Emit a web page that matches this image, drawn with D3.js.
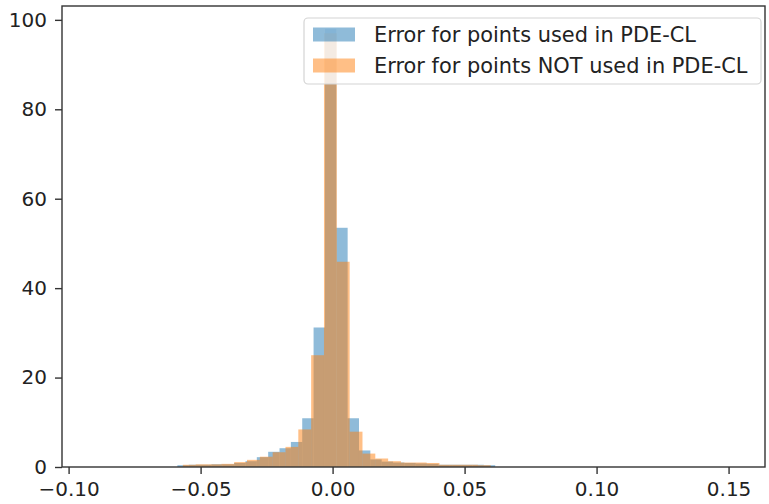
<!DOCTYPE html>
<html>
<head>
<meta charset="utf-8">
<script src="https://cdn.jsdelivr.net/npm/d3@7"></script>
<style>
  html, body { margin: 0; padding: 0; background: #fff; }
  svg { display: block; }
  text { font-family: "DejaVu Sans", sans-serif; fill: #222; }
</style>
</head>
<body>
<svg id="chart" width="769" height="504"></svg>
<script>
// ---- data ----
const seriesNames = ["Error for points used in PDE-CL", "Error for points NOT used in PDE-CL"];
// histogram of points used in PDE-CL: first bin edge, bin width, densities
const usedFirstEdge = -0.0588;
const usedBinWidth = 0.0043;
const usedCounts = [0.4, 0.5, 0.5, 0.6, 0.6, 0.9, 1.3, 2.2, 3.4, 4.2, 5.6, 10.9, 31.2, 98.0,
                    53.5, 10.9, 3.7, 1.7, 1.2, 1.0, 0.9, 0.8, 0.7, 0.5, 0.5, 0.5, 0.5, 0.4];
// histogram of points NOT used in PDE-CL
const notUsedFirstEdge = -0.05672;
const notUsedBinWidth = 0.00486;
const notUsedCounts = [0.5, 0.6, 0.6, 0.7, 1.1, 1.6, 2.3, 3.3, 4.5, 8.4, 25.0, 97.0,
                       45.9, 7.9, 3.0, 1.9, 1.3, 1.0, 1.0, 0.9, 0.5, 0.5, 0.5, 0.4];
const xTicks = [-0.10, -0.05, 0.00, 0.05, 0.10, 0.15];
const yTicks = [0, 20, 40, 60, 80, 100];
const xDomain = [-0.1025, 0.1638];
const yDomain = [0, 103.1];

// ---- layout ----
const svg = d3.select("#chart");
const L = 62, R = 765, T = 6, B = 467;
const x = d3.scaleLinear().domain(xDomain).range([L, R]);
const y = d3.scaleLinear().domain(yDomain).range([B, T]);
const colors = ["#1f77b4", "#ff7f0e"];

function bins(first, w, counts) {
  return counts.map((c, i) => ({ x0: first + i * w, x1: first + (i + 1) * w, v: c }));
}
const series = [
  bins(usedFirstEdge, usedBinWidth, usedCounts),
  bins(notUsedFirstEdge, notUsedBinWidth, notUsedCounts)
];

const plot = svg.append("g");
series.forEach((s, k) => {
  plot.append("g")
    .selectAll("rect").data(s).join("rect")
    .attr("x", d => x(d.x0))
    .attr("width", d => x(d.x1) - x(d.x0))
    .attr("y", d => y(d.v))
    .attr("height", d => y(0) - y(d.v))
    .attr("fill", colors[k])
    .attr("fill-opacity", 0.5);
});

// ---- axes ----
const fs = "20px";
const xAxis = d3.axisBottom(x).tickValues(xTicks).tickFormat(d3.format(".2f"))
  .tickSize(7).tickSizeOuter(0).tickPadding(8);
const gx = svg.append("g").attr("transform", `translate(0,${B})`).call(xAxis);
gx.select(".domain").remove();
gx.selectAll("line").attr("stroke", "#333").attr("stroke-width", 1.4);
gx.selectAll("text").style("font-size", fs).attr("fill", "#222");

const yAxis = d3.axisLeft(y).tickValues(yTicks).tickFormat(d3.format("d"))
  .tickSize(7).tickSizeOuter(0).tickPadding(8);
const gy = svg.append("g").attr("transform", `translate(${L},0)`).call(yAxis);
gy.select(".domain").remove();
gy.selectAll("line").attr("stroke", "#333").attr("stroke-width", 1.4);
gy.selectAll("text").style("font-size", fs).attr("fill", "#222");

// spines
svg.append("rect").attr("x", L).attr("y", T).attr("width", R - L).attr("height", B - T)
  .attr("fill", "none").attr("stroke", "#333").attr("stroke-width", 1.4);

// ---- legend ----
const lg = svg.append("g");
lg.append("rect").attr("x", 304).attr("y", 18).attr("width", 457).attr("height", 66)
  .attr("rx", 4).attr("fill", "#fff").attr("fill-opacity", 0.8)
  .attr("stroke", "#d4d4d4").attr("stroke-width", 1.2);
seriesNames.forEach((name, i) => {
  const cy = 34.5 + i * 31;
  lg.append("rect").attr("x", 313).attr("y", cy - 7).attr("width", 42).attr("height", 14)
    .attr("fill", colors[i]).attr("fill-opacity", 0.5);
  lg.append("text").attr("x", 374).attr("y", cy + 7.5).style("font-size", "20.9px").text(name);
});
</script>
</body>
</html>
